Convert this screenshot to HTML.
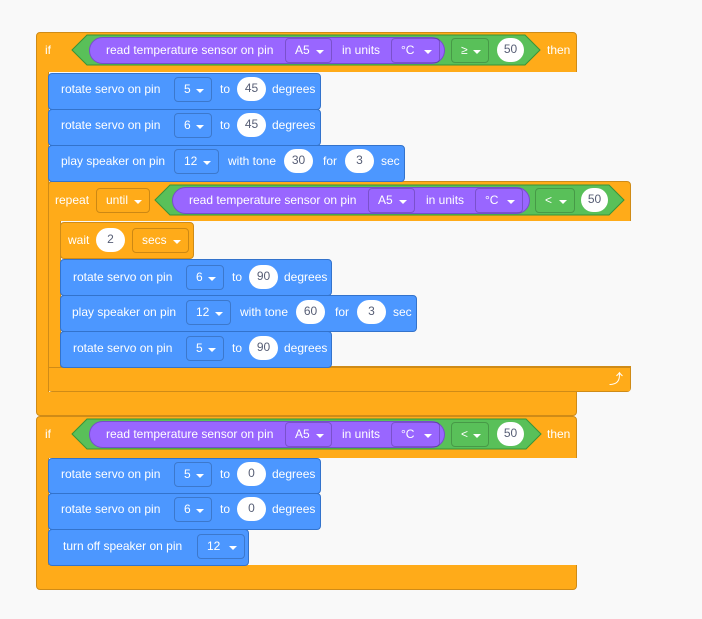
<!DOCTYPE html>
<html><head><meta charset="utf-8"><style>
body{margin:0;width:702px;height:619px;background:#f9f9f9;position:relative;overflow:hidden;font-family:"Liberation Sans",sans-serif;font-size:12px;}
div,span{position:absolute;box-sizing:border-box}
.o{background:#ffab19;border:1px solid #cf8b17;border-radius:4px}
.bl{background:#4c97ff;border:1px solid #3373cc;border-radius:4px}
.p{background:#9966ff;border:1px solid #774dcb;border-radius:14px}
.t{color:#fff;line-height:16px;white-space:nowrap}
.dd{height:25px;border:1px solid rgba(0,0,0,.2);border-radius:4px;color:#fff;line-height:23px;padding-left:9px}
.dd i{position:absolute;right:7px;top:11px;width:0;height:0;border-left:4px solid transparent;border-right:4px solid transparent;border-top:4px solid #fff}
.ov{height:24px;background:#fff;border-radius:12px;color:#575e75;text-align:center;line-height:23px}
</style></head><body>
<div class="o" style="left:36px;top:32px;width:541px;height:384px"></div>
<div class="o" style="left:36px;top:416px;width:541px;height:174px"></div>
<div style="left:48px;top:72px;width:529px;height:320px;background:#f9f9f9;border-left:1px solid #cf8b17"></div>
<div style="left:48px;top:458px;width:529px;height:107px;background:#f9f9f9;border-left:1px solid #cf8b17"></div>
<div style="left:37px;top:72px;width:11px;height:320px;background:#ffab19"></div>
<div style="left:37px;top:458px;width:11px;height:107px;background:#ffab19"></div>
<div class="o" style="left:48px;top:181px;width:583px;height:211px"></div>
<div style="left:60px;top:221px;width:571px;height:146px;background:#f9f9f9;border-left:1px solid #cf8b17;border-bottom:1px solid #cf8b17"></div>
<div style="left:49px;top:221px;width:11px;height:146px;background:#ffab19"></div>
<div style="left:49px;top:367px;width:581px;height:24px;background:#ffab19;border-top:1px solid #cf8b17"></div>
<span class="t" style="left:609px;top:371px;font-size:14px">⤴</span>
<div class="bl" style="left:48px;top:73px;width:273px;height:37px"></div>
<div class="bl" style="left:48px;top:109px;width:273px;height:37px"></div>
<div class="bl" style="left:48px;top:145px;width:357px;height:37px"></div>
<div class="o" style="left:60px;top:222px;width:134px;height:37px"></div>
<div class="bl" style="left:60px;top:259px;width:272px;height:37px"></div>
<div class="bl" style="left:60px;top:295px;width:357px;height:37px"></div>
<div class="bl" style="left:60px;top:331px;width:272px;height:37px"></div>
<div class="bl" style="left:48px;top:458px;width:273px;height:36px"></div>
<div class="bl" style="left:48px;top:493px;width:273px;height:37px"></div>
<div class="bl" style="left:48px;top:529px;width:201px;height:37px"></div>
<svg width="702" height="619" style="position:absolute;left:0;top:0">
<polygon points="72,50 87,35 525,35 540,50 525,65 87,65" fill="#59c059" stroke="#389438"/>
<polygon points="155,200 170,185 609,185 624,200 609,215 170,215" fill="#59c059" stroke="#389438"/>
<polygon points="72,434 87,419 526,419 541,434 526,449 87,449" fill="#59c059" stroke="#389438"/>
</svg>
<div class="p" style="left:89px;top:37px;width:356px;height:27px"></div>
<div class="p" style="left:172px;top:187px;width:358px;height:27px"></div>
<div class="p" style="left:89px;top:421px;width:356px;height:27px"></div>

<span class="t" style="left:45px;top:42px">if</span>
<span class="t" style="left:106px;top:42px">read temperature sensor on pin</span>
<div class="dd" style="left:285px;top:38px;width:47px">A5<i></i></div>
<span class="t" style="left:342px;top:42px">in units</span>
<div class="dd" style="left:391px;top:38px;width:49px">°C<i></i></div>
<div class="dd" style="left:451px;top:38px;width:38px">≥<i></i></div>
<div class="ov" style="left:497px;top:38px;width:27px">50</div>
<span class="t" style="left:547px;top:42px">then</span>

<span class="t" style="left:61px;top:81px">rotate servo on pin</span>
<div class="dd" style="left:174px;top:77px;width:38px">5<i></i></div>
<span class="t" style="left:220px;top:81px">to</span>
<div class="ov" style="left:237px;top:77px;width:29px">45</div>
<span class="t" style="left:272px;top:81px">degrees</span>

<span class="t" style="left:61px;top:117px">rotate servo on pin</span>
<div class="dd" style="left:174px;top:113px;width:38px">6<i></i></div>
<span class="t" style="left:220px;top:117px">to</span>
<div class="ov" style="left:237px;top:113px;width:29px">45</div>
<span class="t" style="left:272px;top:117px">degrees</span>

<span class="t" style="left:61px;top:153px">play speaker on pin</span>
<div class="dd" style="left:174px;top:149px;width:45px">12<i></i></div>
<span class="t" style="left:228px;top:153px">with tone</span>
<div class="ov" style="left:284px;top:149px;width:29px">30</div>
<span class="t" style="left:323px;top:153px">for</span>
<div class="ov" style="left:345px;top:149px;width:29px">3</div>
<span class="t" style="left:381px;top:153px">sec</span>

<span class="t" style="left:55px;top:192px">repeat</span>
<div class="dd" style="left:96px;top:188px;width:54px">until<i></i></div>
<span class="t" style="left:189px;top:192px">read temperature sensor on pin</span>
<div class="dd" style="left:368px;top:188px;width:47px">A5<i></i></div>
<span class="t" style="left:426px;top:192px">in units</span>
<div class="dd" style="left:475px;top:188px;width:48px">°C<i></i></div>
<div class="dd" style="left:535px;top:188px;width:40px">&lt;<i></i></div>
<div class="ov" style="left:581px;top:188px;width:27px">50</div>

<span class="t" style="left:68px;top:232px">wait</span>
<div class="ov" style="left:96px;top:228px;width:29px">2</div>
<div class="dd" style="left:132px;top:228px;width:57px">secs<i></i></div>

<span class="t" style="left:73px;top:269px">rotate servo on pin</span>
<div class="dd" style="left:186px;top:265px;width:38px">6<i></i></div>
<span class="t" style="left:232px;top:269px">to</span>
<div class="ov" style="left:249px;top:265px;width:29px">90</div>
<span class="t" style="left:284px;top:269px">degrees</span>

<span class="t" style="left:72px;top:304px">play speaker on pin</span>
<div class="dd" style="left:186px;top:300px;width:45px">12<i></i></div>
<span class="t" style="left:240px;top:304px">with tone</span>
<div class="ov" style="left:296px;top:300px;width:29px">60</div>
<span class="t" style="left:335px;top:304px">for</span>
<div class="ov" style="left:357px;top:300px;width:29px">3</div>
<span class="t" style="left:393px;top:304px">sec</span>

<span class="t" style="left:73px;top:340px">rotate servo on pin</span>
<div class="dd" style="left:186px;top:336px;width:38px">5<i></i></div>
<span class="t" style="left:232px;top:340px">to</span>
<div class="ov" style="left:249px;top:336px;width:29px">90</div>
<span class="t" style="left:284px;top:340px">degrees</span>

<span class="t" style="left:45px;top:426px">if</span>
<span class="t" style="left:106px;top:426px">read temperature sensor on pin</span>
<div class="dd" style="left:285px;top:422px;width:47px">A5<i></i></div>
<span class="t" style="left:342px;top:426px">in units</span>
<div class="dd" style="left:391px;top:422px;width:49px">°C<i></i></div>
<div class="dd" style="left:451px;top:422px;width:38px">&lt;<i></i></div>
<div class="ov" style="left:497px;top:422px;width:27px">50</div>
<span class="t" style="left:547px;top:426px">then</span>

<span class="t" style="left:61px;top:466px">rotate servo on pin</span>
<div class="dd" style="left:174px;top:462px;width:38px">5<i></i></div>
<span class="t" style="left:220px;top:466px">to</span>
<div class="ov" style="left:237px;top:462px;width:29px">0</div>
<span class="t" style="left:272px;top:466px">degrees</span>

<span class="t" style="left:61px;top:501px">rotate servo on pin</span>
<div class="dd" style="left:174px;top:497px;width:38px">6<i></i></div>
<span class="t" style="left:220px;top:501px">to</span>
<div class="ov" style="left:237px;top:497px;width:29px">0</div>
<span class="t" style="left:272px;top:501px">degrees</span>

<span class="t" style="left:63px;top:538px">turn off speaker on pin</span>
<div class="dd" style="left:197px;top:534px;width:48px">12<i></i></div>
</body></html>
